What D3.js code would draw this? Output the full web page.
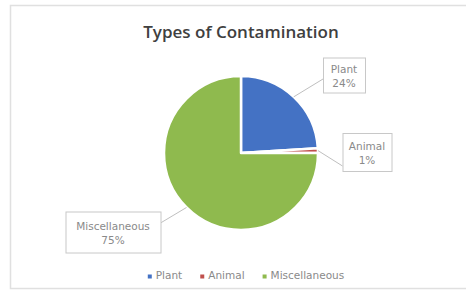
<!DOCTYPE html>
<html>
<head>
<meta charset="utf-8">
<script src="https://cdn.jsdelivr.net/npm/d3@7"></script>
<style>
  body { margin: 0; background: #fff; }
  svg { display: block; }
</style>
</head>
<body>
<div id="chart"></div>
<script>
// data
var categories = ["Plant", "Animal", "Miscellaneous"];
var values = [24, 1, 75];
var pctLabels = ["24%", "1%", "75%"];
var colors = ["#4472C4", "#C0504D", "#8FBA4E"];
var title = "Types of Contamination";

var width = 466, height = 296;
var cx = 241, cy = 153, r = 77;

// label boxes, relative to pie centre
var boxes = [
  { dx: 103, dy: -78, w: 42, h: 35, ex: -21, ey: 4 },
  { dx: 126, dy: -1,  w: 49, h: 38, ex: -24.5, ey: 14 },
  { dx: -128, dy: 79, w: 95, h: 41, ex: 47.5, ey: -9 }
];

var svg = d3.select("#chart").append("svg")
  .attr("width", width)
  .attr("height", height);

// chart area border
svg.append("rect")
  .attr("x", 10.5).attr("y", 5.5)
  .attr("width", 470).attr("height", 283)
  .attr("fill", "#fff")
  .attr("stroke", "#e0e0e0")
  .attr("stroke-width", 1.5);

svg.append("text")
  .attr("x", cx).attr("y", 38)
  .attr("text-anchor", "middle")
  .style("font-family", "Open Sans, Liberation Sans, sans-serif")
  .style("font-weight", "600")
  .style("font-size", "17px")
  .style("fill", "#404040")
  .text(title);

var pie = d3.pie().sort(null).value(function (d) { return d; });
var arcs = pie(values);
var arc = d3.arc().innerRadius(0).outerRadius(r);

var g = svg.append("g").attr("transform", "translate(" + cx + "," + cy + ")");

g.selectAll("path.slice")
  .data(arcs)
  .enter()
  .append("path")
  .attr("class", "slice")
  .attr("d", arc)
  .attr("fill", function (d, i) { return colors[i]; })
  .attr("stroke", "#fff")
  .attr("stroke-width", 2.5)
  .attr("stroke-linejoin", "round");

// leader lines + label boxes
var font = "DejaVu Sans, Verdana, sans-serif";
arcs.forEach(function (a, i) {
  var b = boxes[i];
  var mid = (a.startAngle + a.endAngle) / 2;
  var ax = Math.sin(mid) * r, ay = -Math.cos(mid) * r;
  g.append("line")
    .attr("x1", ax).attr("y1", ay)
    .attr("x2", b.dx + b.ex).attr("y2", b.dy + b.ey)
    .attr("stroke", "#bfbfbf")
    .attr("stroke-width", 1);
  var lg = g.append("g").attr("transform", "translate(" + b.dx + "," + b.dy + ")");
  lg.append("rect")
    .attr("x", -b.w / 2 + 0.5).attr("y", -b.h / 2 + 0.5)
    .attr("width", b.w).attr("height", b.h)
    .attr("fill", "#fff")
    .attr("stroke", "#c8c8c8")
    .attr("stroke-width", 1);
  lg.append("text")
    .attr("text-anchor", "middle")
    .attr("y", -2)
    .style("font-family", font)
    .style("font-size", "10.5px")
    .style("fill", "#8a8a8a")
    .text(categories[i]);
  lg.append("text")
    .attr("text-anchor", "middle")
    .attr("y", 12)
    .style("font-family", font)
    .style("font-size", "10.5px")
    .style("fill", "#8a8a8a")
    .text(pctLabels[i]);
});

// legend
var legend = svg.append("g").attr("class", "legend");
var x = 0;
categories.forEach(function (c, i) {
  var item = legend.append("g").attr("transform", "translate(" + x + ",0)");
  item.append("rect")
    .attr("x", 0).attr("y", -3.5)
    .attr("width", 4).attr("height", 4)
    .attr("fill", colors[i]);
  var t = item.append("text")
    .attr("x", 8).attr("y", 1)
    .style("font-family", font)
    .style("font-size", "10.5px")
    .style("fill", "#8a8a8a")
    .text(c);
  x += 8 + t.node().getComputedTextLength() + 18;
});
var lw = x - 18;
legend.attr("transform", "translate(" + (246 - lw / 2) + ",278)");
</script>
</body>
</html>
